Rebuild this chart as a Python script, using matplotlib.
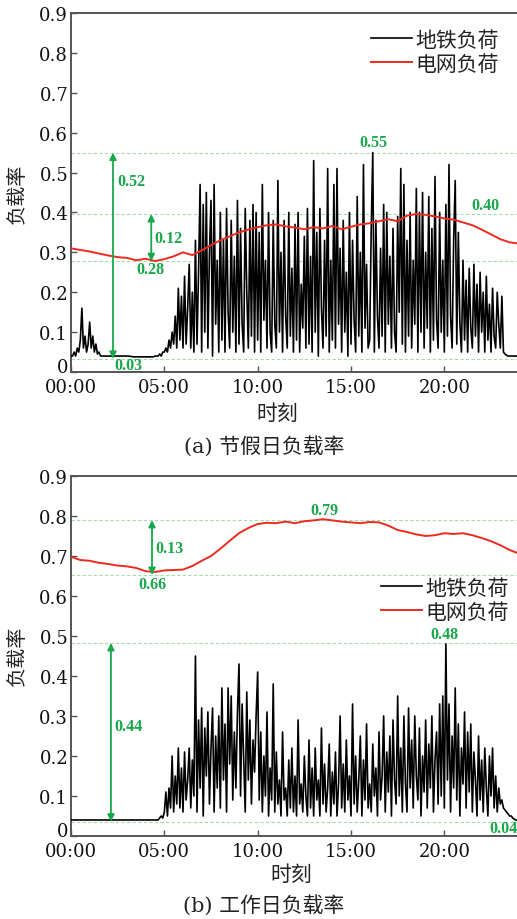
import numpy as np
import matplotlib.pyplot as plt

plt.rcParams['font.family'] = ['DejaVu Serif', 'Noto Sans CJK SC']
plt.rcParams['axes.unicode_minus'] = False

GREEN = '#17a84a'
DASH_GREEN = '#a6dbb0'
RED = '#ee2a1e'

# subway load rate, 5-minute samples, one row per hour
holiday_subway = [
    0.04, 0.04, 0.05, 0.04, 0.06, 0.05, 0.08, 0.16, 0.06, 0.09, 0.05, 0.07,
    0.125, 0.06, 0.09, 0.05, 0.07, 0.045, 0.05, 0.04, 0.04, 0.04, 0.04, 0.04,
    0.04, 0.04, 0.04, 0.04, 0.04, 0.04, 0.04, 0.04, 0.04, 0.04, 0.04, 0.04,
    0.04, 0.04, 0.039, 0.039, 0.038, 0.038, 0.038, 0.038, 0.038, 0.038, 0.038, 0.038,
    0.038, 0.038, 0.038, 0.038, 0.038, 0.038, 0.04, 0.04, 0.04, 0.045, 0.04, 0.05,
    0.05, 0.06, 0.05, 0.08, 0.06, 0.10, 0.07, 0.14, 0.06, 0.21, 0.08, 0.19,
    0.06, 0.24, 0.07, 0.16, 0.27, 0.06, 0.20, 0.05, 0.33, 0.07, 0.25, 0.47,
    0.05, 0.42, 0.10, 0.45, 0.06, 0.30, 0.43, 0.04, 0.47, 0.12, 0.28, 0.05,
    0.40, 0.08, 0.33, 0.05, 0.41, 0.15, 0.06, 0.38, 0.10, 0.29, 0.05, 0.43,
    0.07, 0.36, 0.12, 0.05, 0.41, 0.20, 0.06, 0.38, 0.09, 0.42, 0.05, 0.40,
    0.08, 0.35, 0.05, 0.47, 0.13, 0.28, 0.06, 0.40, 0.10, 0.05, 0.38, 0.12,
    0.06, 0.48, 0.10, 0.30, 0.05, 0.38, 0.14, 0.06, 0.40, 0.09, 0.26, 0.05,
    0.37, 0.08, 0.40, 0.05, 0.22, 0.11, 0.34, 0.06, 0.41, 0.07, 0.29, 0.05,
    0.53, 0.10, 0.35, 0.04, 0.41, 0.16, 0.06, 0.33, 0.09, 0.51, 0.05, 0.28,
    0.08, 0.47, 0.06, 0.51, 0.12, 0.31, 0.05, 0.38, 0.10, 0.25, 0.04, 0.40,
    0.07, 0.33, 0.13, 0.05, 0.44, 0.09, 0.30, 0.05, 0.52, 0.11, 0.27, 0.06,
    0.08, 0.36, 0.55, 0.05, 0.38, 0.14, 0.06, 0.31, 0.09, 0.42, 0.05, 0.40,
    0.12, 0.29, 0.06, 0.36, 0.10, 0.05, 0.39, 0.15, 0.51, 0.07, 0.47, 0.05,
    0.33, 0.09, 0.40, 0.06, 0.28, 0.12, 0.46, 0.05, 0.40, 0.10, 0.45, 0.06,
    0.30, 0.11, 0.44, 0.05, 0.36, 0.08, 0.49, 0.13, 0.06, 0.40, 0.10, 0.28,
    0.05, 0.42, 0.09, 0.52, 0.14, 0.06, 0.33, 0.48, 0.07, 0.35, 0.12, 0.05,
    0.28, 0.08, 0.23, 0.05, 0.26, 0.11, 0.06, 0.27, 0.09, 0.22, 0.05, 0.25,
    0.10, 0.20, 0.05, 0.24, 0.08, 0.17, 0.05, 0.21, 0.09, 0.06, 0.20, 0.12,
    0.06, 0.19, 0.05, 0.045, 0.042, 0.04, 0.04, 0.04, 0.04, 0.04, 0.04, 0.04,
]

workday_subway = [
    0.04, 0.04, 0.04, 0.04, 0.04, 0.04, 0.04, 0.04, 0.04, 0.04, 0.04, 0.04,
    0.04, 0.04, 0.04, 0.04, 0.04, 0.04, 0.04, 0.04, 0.04, 0.04, 0.04, 0.04,
    0.04, 0.04, 0.04, 0.04, 0.04, 0.04, 0.04, 0.04, 0.04, 0.04, 0.04, 0.04,
    0.04, 0.04, 0.04, 0.04, 0.04, 0.04, 0.04, 0.04, 0.04, 0.04, 0.04, 0.04,
    0.04, 0.04, 0.04, 0.04, 0.04, 0.04, 0.04, 0.04, 0.04, 0.045, 0.05, 0.045,
    0.06, 0.11, 0.05, 0.12, 0.07, 0.20, 0.06, 0.15, 0.08, 0.22, 0.07, 0.17,
    0.06, 0.21, 0.09, 0.14, 0.22, 0.07, 0.19, 0.10, 0.45, 0.06, 0.29, 0.12,
    0.32, 0.05, 0.27, 0.15, 0.31, 0.08, 0.22, 0.32, 0.06, 0.25, 0.12, 0.30,
    0.07, 0.37, 0.14, 0.28, 0.06, 0.37, 0.18, 0.35, 0.09, 0.26, 0.12, 0.31,
    0.43, 0.10, 0.33, 0.19, 0.06, 0.36, 0.14, 0.29, 0.08, 0.24, 0.16, 0.30,
    0.41, 0.09, 0.26, 0.06, 0.20, 0.10, 0.31, 0.05, 0.17, 0.09, 0.38, 0.06,
    0.21, 0.08, 0.14, 0.05, 0.26, 0.09, 0.12, 0.05, 0.19, 0.07, 0.22, 0.06,
    0.15, 0.05, 0.29, 0.08, 0.13, 0.06, 0.20, 0.10, 0.05, 0.24, 0.07, 0.17,
    0.05, 0.22, 0.09, 0.14, 0.05, 0.27, 0.08, 0.18, 0.06, 0.12, 0.23, 0.05,
    0.16, 0.08, 0.21, 0.05, 0.13, 0.30, 0.07, 0.18, 0.06, 0.24, 0.09, 0.15,
    0.05, 0.33, 0.08, 0.20, 0.06, 0.14, 0.25, 0.05, 0.19, 0.09, 0.28, 0.07,
    0.13, 0.06, 0.23, 0.10, 0.17, 0.05, 0.26, 0.09, 0.15, 0.30, 0.06, 0.21,
    0.11, 0.25, 0.05, 0.29, 0.14, 0.08, 0.35, 0.10, 0.22, 0.06, 0.30, 0.13,
    0.06, 0.32, 0.12, 0.24, 0.07, 0.30, 0.15, 0.09, 0.27, 0.05, 0.20, 0.11,
    0.29, 0.07, 0.23, 0.12, 0.30, 0.06, 0.19, 0.26, 0.08, 0.33, 0.10, 0.35,
    0.07, 0.48, 0.14, 0.33, 0.06, 0.25, 0.12, 0.37, 0.09, 0.28, 0.05, 0.22,
    0.13, 0.31, 0.07, 0.26, 0.11, 0.28, 0.06, 0.21, 0.14, 0.05, 0.25, 0.09,
    0.19, 0.06, 0.22, 0.12, 0.05, 0.20, 0.10, 0.22, 0.07, 0.15, 0.06, 0.12,
    0.08, 0.09, 0.07, 0.065, 0.06, 0.055, 0.05, 0.05, 0.045, 0.042, 0.04, 0.04,
]

# grid load rate, half-hour samples from 00:00 to 24:00
holiday_grid = [
    0.310, 0.306, 0.302, 0.297, 0.292, 0.288, 0.286, 0.280, 0.284, 0.278,
    0.283, 0.290, 0.300, 0.293, 0.305, 0.318, 0.330, 0.340, 0.350, 0.357,
    0.363, 0.368, 0.370, 0.365, 0.362, 0.358, 0.363, 0.360, 0.366, 0.358,
    0.364, 0.370, 0.373, 0.378, 0.383, 0.378, 0.392, 0.396, 0.394, 0.390,
    0.385, 0.382, 0.375, 0.368, 0.357, 0.345, 0.333, 0.325, 0.322,
]

workday_grid = [
    0.698, 0.690, 0.688, 0.683, 0.680, 0.676, 0.674, 0.670, 0.662, 0.660,
    0.664, 0.665, 0.666, 0.675, 0.688, 0.700, 0.718, 0.738, 0.757, 0.770,
    0.780, 0.783, 0.782, 0.786, 0.782, 0.787, 0.789, 0.792, 0.789, 0.786,
    0.784, 0.782, 0.785, 0.784, 0.776, 0.765, 0.760, 0.754, 0.750, 0.752,
    0.757, 0.755, 0.757, 0.752, 0.745, 0.737, 0.727, 0.715, 0.706,
]

hour_ticks = [0, 5, 10, 15, 20]
hour_labels = ['00:00', '05:00', '10:00', '15:00', '20:00']
rate_ticks = [0, 0.1, 0.2, 0.3, 0.4, 0.5, 0.6, 0.7, 0.8, 0.9]
rate_labels = ['0', '0.1', '0.2', '0.3', '0.4', '0.5', '0.6', '0.7', '0.8', '0.9']

t_subway = np.arange(len(holiday_subway)) / 12
t_grid = np.arange(len(holiday_grid)) / 2

W, H = 517, 920
fig = plt.figure(figsize=(W / 100, H / 100), dpi=100)


def px_axes(left, top, right, bottom):
    return fig.add_axes([left / W, 1 - bottom / H, (right - left) / W, (bottom - top) / H])


def style_axes(ax):
    ax.set_xlim(0, 24)
    ax.set_ylim(0, 0.9)
    ax.set_xticks(hour_ticks, hour_labels)
    ax.set_yticks(rate_ticks, rate_labels)
    ax.tick_params(direction='in', length=4, width=1, color='#555555',
                   labelsize=13, labelcolor='#111111')
    ax.tick_params(axis='x', pad=4)
    ax.tick_params(axis='y', pad=2)
    # lift the "0" a little so it sits clear of "00:00"
    ax.get_yticklabels()[0].set_verticalalignment('baseline')
    ax.spines['right'].set_visible(False)
    for s in ('left', 'bottom', 'top'):
        ax.spines[s].set_color('#555555')
        ax.spines[s].set_linewidth(1.4)


def dashed(ax, levels):
    for v in levels:
        ax.axhline(v, color=DASH_GREEN, lw=0.8, ls=(0, (3, 2)), zorder=1)


def span_arrow(ax, x, lo, hi):
    ax.annotate('', xy=(x, hi), xytext=(x, lo),
                arrowprops=dict(arrowstyle='<|-|>', color=GREEN, lw=1.3,
                                mutation_scale=10, shrinkA=0, shrinkB=0), zorder=5)


def green_label(ax, x, y, s, ha='center'):
    ax.text(x, y, s, color=GREEN, fontsize=11.5, fontweight='bold',
            family='Liberation Serif', ha=ha, va='center', zorder=6)


def add_legend(ax, right_px, top_px):
    ax.legend(loc='upper right', bbox_to_anchor=(right_px / W, 1 - top_px / H),
              bbox_transform=fig.transFigure, frameon=False, fontsize=15,
              handlelength=2.0, handletextpad=0.15, labelspacing=0.2,
              borderpad=0, borderaxespad=0, labelcolor='#222222')


# (a) holiday
ax1 = px_axes(71, 14, 519, 373)
style_axes(ax1)
dashed(ax1, [0.55, 0.396, 0.278, 0.033])
ax1.plot(t_subway, holiday_subway, color='black', lw=1.2, label='地铁负荷', zorder=3)
ax1.plot(t_grid, holiday_grid, color=RED, lw=1.4, label='电网负荷', zorder=4)
span_arrow(ax1, 2.25, 0.033, 0.55)
span_arrow(ax1, 4.3, 0.278, 0.396)
green_label(ax1, 2.47, 0.48, '0.52', ha='left')
green_label(ax1, 4.45, 0.335, '0.12', ha='left')
green_label(ax1, 4.23, 0.258, '0.28')
green_label(ax1, 3.05, 0.018, '0.03')
green_label(ax1, 16.2, 0.577, '0.55')
green_label(ax1, 22.2, 0.418, '0.40')
add_legend(ax1, 499, 31)

# (b) workday
ax2 = px_axes(71, 477, 519, 837)
style_axes(ax2)
dashed(ax2, [0.79, 0.6525, 0.4825, 0.036])
ax2.plot(t_subway, workday_subway, color='black', lw=1.2, label='地铁负荷', zorder=3)
ax2.plot(t_grid, workday_grid, color=RED, lw=1.4, label='电网负荷', zorder=4)
span_arrow(ax2, 4.34, 0.6525, 0.79)
span_arrow(ax2, 2.14, 0.036, 0.4825)
green_label(ax2, 4.5, 0.72, '0.13', ha='left')
green_label(ax2, 4.34, 0.63, '0.66')
green_label(ax2, 13.56, 0.815, '0.79')
green_label(ax2, 2.3, 0.275, '0.44', ha='left')
green_label(ax2, 20.0, 0.505, '0.48')
green_label(ax2, 22.4, 0.02, '0.04', ha='left')
add_legend(ax2, 509, 579)

# axis titles and captions
for xc, yc in [(277, 414), (291, 875)]:
    fig.text(xc / W, 1 - yc / H, '时刻', fontsize=15, ha='center', va='center', color='#222222')
for yc in [194, 656]:
    fig.text(17 / W, 1 - yc / H, '负载率', fontsize=14.5, rotation=90,
             ha='center', va='center', color='#222222')
fig.text(264 / W, 1 - 446 / H, '(a) 节假日负载率', fontsize=15, ha='center', va='center', color='#222222')
fig.text(264 / W, 1 - 905 / H, '(b) 工作日负载率', fontsize=15, ha='center', va='center', color='#222222')

fig.savefig('out.png', dpi=100)
